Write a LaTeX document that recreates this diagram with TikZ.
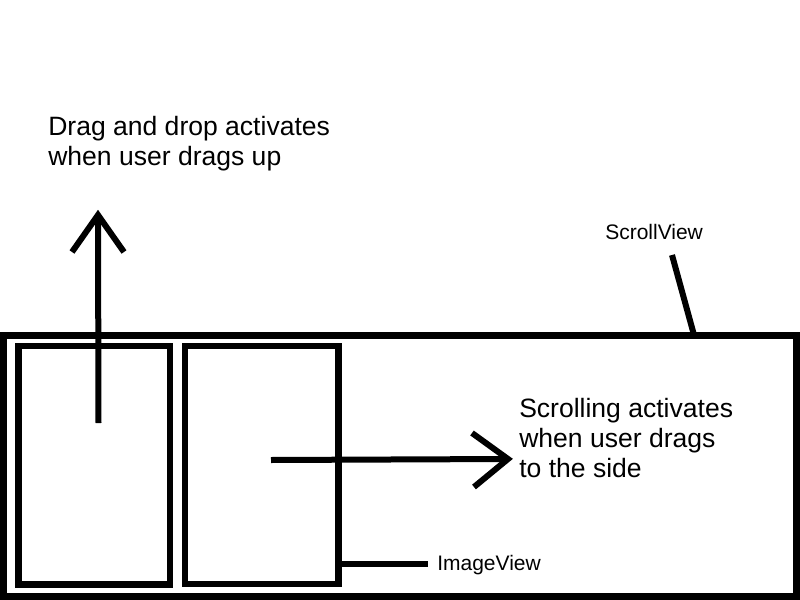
\documentclass[tikz,border=0pt]{standalone}
\usepackage{fontspec}
\setmainfont{Liberation Sans}
\begin{document}
\begin{tikzpicture}[x=0.75pt,y=-0.75pt,
  frame/.style={line width=4.6pt},
  pointer/.style={line width=4.5pt},
  bigtext/.style={font=\fontsize{19.9}{22.5}\selectfont, anchor=base west, inner sep=0pt, align=left},
  smalltext/.style={font=\fontsize{15.75}{18}\selectfont, anchor=base west, inner sep=0pt}]
\useasboundingbox[fill=white] (0,0) rectangle (800,600);
% ScrollView and ImageViews
\draw[frame] (3.5,335.5) rectangle (796.5,596.5);
\draw[frame] (18.5,346) rectangle (170,584.5);
\draw[frame] (185,346) rectangle (338.5,584);
% texts (base anchor sits on the last line)
\node[bigtext] (drag) at (48,165) {Drag and drop activates\\when user drags up};
\node[bigtext] (scroll) at (519,477) {Scrolling activates\\when user drags\\to the side};
\node[smalltext] (svlabel) at (605,239) {ScrollView};
\node[smalltext] (ivlabel) at (437,570) {ImageView};
% up arrow
\coordinate (upStart) at (98.5,423);
\coordinate (upTip) at (98,215);
\coordinate (upL) at (72,252);
\coordinate (upR) at (124,252);
\draw[pointer] (upStart) -- (upTip);
\draw[pointer] (upL) -- (upTip) -- (upR);
% right arrow
\coordinate (rtStart) at (271,460);
\coordinate (rtTip) at (508,459);
\coordinate (rtU) at (472,433);
\coordinate (rtD) at (474,487);
\draw[pointer] (rtStart) -- (rtTip);
\draw[pointer] (rtU) -- (rtTip) -- (rtD);
% pointers
\coordinate (svA) at (672,255);
\coordinate (svB) at (694,335);
\draw[pointer] (svA) -- (svB);
\coordinate (ivA) at (338.5,563.5);
\coordinate (ivB) at (428,563.5);
\draw[pointer] (ivA) -- (ivB);
\end{tikzpicture}
\end{document}
